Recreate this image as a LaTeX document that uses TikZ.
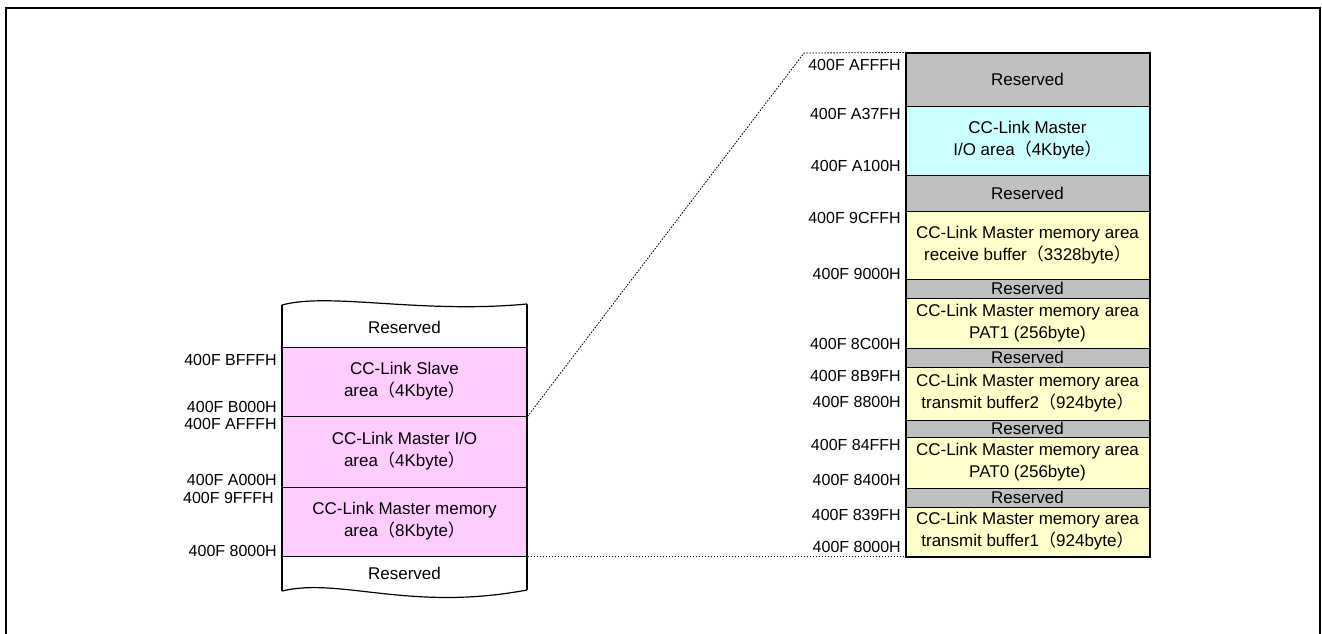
\documentclass[tikz,border=0pt]{standalone}
\usepackage{fontspec}
\setmainfont{Liberation Sans}
\newfontfamily\cjkfont{Noto Sans CJK JP}
\newcommand{\lpar}{{\cjkfont （}}
\newcommand{\rpar}{{\cjkfont ）}}
\definecolor{pinkc}{HTML}{FFCCFF}
\definecolor{cyanc}{HTML}{CCFFFF}
\definecolor{grayc}{HTML}{C0C0C0}
\definecolor{yellowc}{HTML}{FFFFCC}
\tikzset{
  box/.style={draw=black, line width=1pt, rectangle, inner sep=0pt, align=center,
    font=\fontsize{17}{22}\selectfont},
  lbox/.style={box, minimum width=245pt},
  rbox/.style={box, minimum width=243pt},
  addr/.style={anchor=east, inner sep=0pt, font=\fontsize{16}{19}\selectfont},
  thickline/.style={line width=2pt},
  zoomline/.style={line width=0.8pt, dash pattern=on 1.6pt off 1.4pt},
}
\begin{document}
\begin{tikzpicture}[x=1pt,y=-1pt]
\useasboundingbox (0,0) rectangle (1322,633);
% outer frame
\draw[line width=2pt] (6,640) -- (6,7.7) -- (1320,7.7) -- (1320,640);

% ---------- left column ----------
\node[lbox, fill=pinkc, minimum height=69pt] (slave) at (404.5,381.5) {CC-Link Slave\\area\lpar 4Kbyte\rpar};
\node[lbox, fill=pinkc, minimum height=71pt] (lio) at (404.5,451.5) {CC-Link Master I/O\\area\lpar 4Kbyte\rpar};
\node[lbox, fill=pinkc, minimum height=69pt] (lmem) at (404.5,521.5) {CC-Link Master memory\\area\lpar 8Kbyte\rpar};
% top reserved (wavy)
\draw[line width=1.2pt] (282,305) .. controls (330,292) and (420,314) .. (527,304);
\node[font=\fontsize{17}{22}\selectfont, inner sep=0pt] (ltop) at (404.5,327) {Reserved};
% bottom reserved (wavy)
\draw[line width=1.2pt] (282,591) .. controls (340,577) and (410,612) .. (527,590);
\node[font=\fontsize{17}{22}\selectfont, inner sep=0pt] (lbot) at (404.5,573) {Reserved};
\draw[thickline] (282,305) -- (282,591);
\draw[thickline] (527,304) -- (527,590);

% left addresses
\node[addr] (la1) at (277,360) {400F BFFFH};
\node[addr] (la2) at (277,407) {400F B000H};
\node[addr] (la3) at (277,424) {400F AFFFH};
\node[addr] (la4) at (277,480) {400F A000H};
\node[addr] (la5) at (274,498) {400F 9FFFH};
\node[addr] (la6) at (277,551) {400F 8000H};

% ---------- right column ----------
\node[rbox, fill=grayc, minimum height=53pt] (r1) at (1027.5,79.5) {Reserved};
\node[rbox, fill=cyanc, minimum height=69pt] (r2) at (1027.5,140.5) {CC-Link Master\\I/O area\lpar 4Kbyte\rpar};
\node[rbox, fill=grayc, minimum height=36pt] (r3) at (1027.5,193) {Reserved};
\node[rbox, fill=yellowc, minimum height=68pt] (r4) at (1027.5,245) {CC-Link Master memory area\\receive buffer\lpar 3328byte\rpar};
\node[rbox, fill=grayc, minimum height=19pt] (r5) at (1027.5,288.5) {Reserved};
\node[rbox, fill=yellowc, minimum height=50pt] (r6) at (1027.5,323) {CC-Link Master memory area\\PAT1 (256byte)};
\node[rbox, fill=grayc, minimum height=19pt] (r7) at (1027.5,357.5) {Reserved};
\node[rbox, fill=yellowc, minimum height=53pt] (r8) at (1027.5,393.5) {CC-Link Master memory area\\transmit buffer2\lpar 924byte\rpar};
\node[rbox, fill=grayc, minimum height=17pt] (r9) at (1027.5,428.5) {Reserved};
\node[rbox, fill=yellowc, minimum height=51pt] (r10) at (1027.5,462.5) {CC-Link Master memory area\\PAT0 (256byte)};
\node[rbox, fill=grayc, minimum height=19pt] (r11) at (1027.5,497.5) {Reserved};
\node[rbox, fill=yellowc, minimum height=49pt] (r12) at (1027.5,531.5) {CC-Link Master memory area\\transmit buffer1\lpar 924byte\rpar};
\draw[thickline] (r1.north west) rectangle (r12.south east);

% right addresses
\node[addr] (ra1) at (901,65) {400F AFFFH};
\node[addr] (ra2) at (901,114) {400F A37FH};
\node[addr] (ra3) at (901,166) {400F A100H};
\node[addr] (ra4) at (901,218) {400F 9CFFH};
\node[addr] (ra5) at (901,274) {400F 9000H};
\node[addr] (ra6) at (901,344) {400F 8C00H};
\node[addr] (ra7) at (901,376) {400F 8B9FH};
\node[addr] (ra8) at (901,402) {400F 8800H};
\node[addr] (ra9) at (901,445) {400F 84FFH};
\node[addr] (ra10) at (901,480) {400F 8400H};
\node[addr] (ra11) at (901,515) {400F 839FH};
\node[addr] (ra12) at (901,547) {400F 8000H};

% zoom lines
\coordinate (zc) at (804,53);
\draw[zoomline] (slave.south east) -- (zc) -- (r1.north west);
\draw[zoomline] (lmem.south east) -- (r12.south west);
\end{tikzpicture}
\end{document}
